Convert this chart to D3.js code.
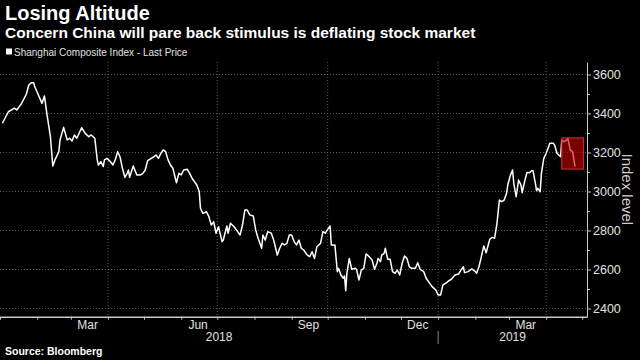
<!DOCTYPE html>
<html><head><meta charset="utf-8">
<script src="https://cdn.jsdelivr.net/npm/d3@7"></script>
<style>html,body{margin:0;padding:0;background:#000;}svg{display:block;}</style>
</head><body><svg id="chart" width="640" height="360"></svg>
<script>
const dates = [
"2018-01-03","2018-01-08","2018-01-13","2018-01-15","2018-01-19","2018-01-23","2018-01-25","2018-01-27","2018-01-29","2018-01-30",
"2018-02-02","2018-02-05","2018-02-07","2018-02-09","2018-02-12","2018-02-14","2018-02-16","2018-02-19","2018-02-20","2018-02-23",
"2018-02-26","2018-02-28","2018-03-02","2018-03-04","2018-03-06","2018-03-10","2018-03-13","2018-03-16","2018-03-18","2018-03-21",
"2018-03-23","2018-03-24","2018-03-26","2018-03-28","2018-03-29","2018-03-31","2018-04-03","2018-04-05","2018-04-07","2018-04-09",
"2018-04-11","2018-04-13","2018-04-15","2018-04-17","2018-04-18","2018-04-19","2018-04-22","2018-04-25","2018-04-28","2018-04-30",
"2018-05-02","2018-05-04","2018-05-07","2018-05-09","2018-05-11","2018-05-13","2018-05-15","2018-05-17","2018-05-19","2018-05-21",
"2018-05-23","2018-05-25","2018-05-28","2018-05-30","2018-06-01","2018-06-03","2018-06-06","2018-06-08","2018-06-10","2018-06-12",
"2018-06-14","2018-06-16","2018-06-17","2018-06-19","2018-06-22","2018-06-24","2018-06-26","2018-06-28","2018-06-30","2018-07-02",
"2018-07-05","2018-07-06","2018-07-09","2018-07-10","2018-07-12","2018-07-15","2018-07-18","2018-07-20","2018-07-22","2018-07-24",
"2018-07-26","2018-07-28","2018-07-31","2018-08-02","2018-08-04","2018-08-07","2018-08-08","2018-08-10","2018-08-12","2018-08-15",
"2018-08-17","2018-08-19","2018-08-20","2018-08-22","2018-08-24","2018-08-26","2018-08-28","2018-08-30","2018-09-01","2018-09-03",
"2018-09-05","2018-09-07","2018-09-09","2018-09-11","2018-09-14","2018-09-16","2018-09-18","2018-09-20","2018-09-22","2018-09-25",
"2018-09-27","2018-09-29","2018-10-01","2018-10-03","2018-10-04","2018-10-07","2018-10-09","2018-10-10","2018-10-12","2018-10-14",
"2018-10-15","2018-10-16","2018-10-17","2018-10-19","2018-10-21","2018-10-24","2018-10-25","2018-10-27","2018-10-29","2018-10-31",
"2018-11-02","2018-11-04","2018-11-07","2018-11-09","2018-11-11","2018-11-12","2018-11-14","2018-11-15","2018-11-17","2018-11-18",
"2018-11-20","2018-11-22","2018-11-24","2018-11-26","2018-11-28","2018-11-30","2018-12-02","2018-12-04","2018-12-06","2018-12-08",
"2018-12-10","2018-12-13","2018-12-15","2018-12-17","2018-12-20","2018-12-22","2018-12-25","2018-12-27","2018-12-30","2019-01-01",
"2019-01-03","2019-01-05","2019-01-08","2019-01-10","2019-01-12","2019-01-15","2019-01-18","2019-01-20","2019-01-22","2019-01-23",
"2019-01-26","2019-01-29","2019-02-01","2019-02-02","2019-02-04","2019-02-06","2019-02-08","2019-02-10","2019-02-13","2019-02-15",
"2019-02-17","2019-02-19","2019-02-21","2019-02-23","2019-02-25","2019-02-27","2019-02-28","2019-03-02","2019-03-04","2019-03-05",
"2019-03-07","2019-03-09","2019-03-11","2019-03-12","2019-03-14","2019-03-16","2019-03-18","2019-03-20","2019-03-21","2019-03-23",
"2019-03-24","2019-03-25","2019-03-27","2019-03-28","2019-03-30","2019-04-01","2019-04-03","2019-04-04","2019-04-07","2019-04-08",
"2019-04-10","2019-04-13","2019-04-14","2019-04-16","2019-04-18","2019-04-19","2019-04-20","2019-04-21","2019-04-23","2019-04-25"
];
const values = [
3350,3409,3427,3418,3452,3500,3546,3558,3558,3537,
3495,3452,3490,3401,3281,3131,3165,3204,3264,3329,
3264,3273,3259,3290,3273,3327,3298,3281,3290,3273,
3162,3136,3153,3128,3162,3170,3153,3136,3162,3204,
3178,3119,3073,3093,3110,3073,3131,3085,3085,3093,
3110,3158,3170,3178,3187,3170,3196,3213,3204,3162,
3136,3119,3045,3093,3085,3110,3114,3093,3068,3050,
3033,2999,2914,2888,2896,2871,2828,2845,2786,2819,
2743,2751,2823,2786,2837,2819,2794,2777,2828,2905,
2905,2880,2874,2803,2760,2709,2777,2751,2794,2786,
2751,2700,2674,2709,2734,2726,2734,2777,2777,2743,
2726,2751,2709,2700,2674,2666,2691,2657,2717,2734,
2794,2786,2806,2823,2726,2726,2589,2606,2572,2555,
2567,2491,2581,2657,2601,2606,2601,2546,2597,2606,
2680,2669,2649,2601,2632,2657,2640,2674,2683,2709,
2652,2652,2589,2581,2597,2572,2632,2669,2657,2614,
2606,2606,2635,2601,2589,2555,2529,2512,2495,2469,
2469,2521,2532,2543,2550,2572,2577,2597,2614,2584,
2589,2603,2589,2581,2614,2666,2721,2686,2755,2765,
2760,2837,2956,2948,2956,2991,3033,3080,3110,3042,
2973,3059,3033,2994,3050,3098,3096,3107,3107,3042,
3004,3016,2999,3093,3170,3196,3230,3247,3247,3238,
3196,3178,3264,3255,3264,3271,3247,3213,3204,3127
];
const yTicks = [2400,2600,2800,3000,3200,3400,3600];
const yMinorTicks = [2500,2700,2900,3100,3300,3500];
const gridDates = ["2018-04-01","2018-07-01","2018-10-01","2019-01-01","2019-04-01"];
const monthLabelDates = ["2018-03-15","2018-06-15","2018-09-15","2018-12-15","2019-03-15"];
const monthLabels = ["Mar","Jun","Sep","Dec","Mar"];
const yearLabels = ["2018","2019"];
const yearStarts = ["2018-01-01","2019-01-01"];
const highlightDates = ["2019-04-14","2019-05-02"];
const highlightValues = [3115,3275];
const xDomain = ["2018-01-01","2019-05-05"];
const yDomain = [2358,3664];
const title = "Losing Altitude";
const subtitle = "Concern China will pare back stimulus is deflating stock market";
const legendLabel = "Shanghai Composite Index - Last Price";
const axisTitle = "Index level";
const source = "Source: Bloomberg";

const parse = d3.timeParse("%Y-%m-%d");
const svg = d3.select("#chart");
const W = 640, H = 360;
const plot = {left: 0, right: 587, top: 62, bottom: 316.7};
const FONT = "'Liberation Sans', Arial, sans-serif";

svg.append("rect").attr("width", W).attr("height", H).attr("fill", "#000");

const x = d3.scaleTime().domain(xDomain.map(parse)).range([plot.left, plot.right]);
const y = d3.scaleLinear().domain(yDomain).range([plot.bottom, plot.top]);

// gridlines
const grid = svg.append("g");
grid.selectAll("line.h").data(yTicks).join("line")
  .attr("x1", plot.left).attr("x2", plot.right)
  .attr("y1", d => y(d)).attr("y2", d => y(d))
  .attr("stroke", "#5a5a5a").attr("stroke-width", 1).attr("stroke-dasharray", "1,2");
grid.selectAll("line.v").data(gridDates.map(parse)).join("line")
  .attr("x1", d => x(d)).attr("x2", d => x(d))
  .attr("y1", plot.top).attr("y2", plot.bottom)
  .attr("stroke", "#5a5a5a").attr("stroke-width", 1).attr("stroke-dasharray", "1,2");

// line
const data = dates.map((d, i) => ({date: parse(d), value: values[i]}));
svg.append("path").datum(data)
  .attr("fill", "none").attr("stroke", "#fff").attr("stroke-width", 1.5)
  .attr("stroke-linejoin", "round")
  .attr("d", d3.line().x(d => x(d.date)).y(d => y(d.value)));

// highlight box
const hx0 = x(parse(highlightDates[0])), hx1 = x(parse(highlightDates[1]));
const hy0 = y(highlightValues[1]), hy1 = y(highlightValues[0]);
svg.append("rect").attr("x", hx0).attr("y", hy0)
  .attr("width", hx1 - hx0).attr("height", hy1 - hy0)
  .attr("fill", "rgb(200,0,0)").attr("fill-opacity", 0.6)
  .attr("stroke", "rgb(215,45,45)").attr("stroke-width", 1);

// right axis
const yAxis = svg.append("g").attr("transform", `translate(${plot.right},0)`)
  .call(d3.axisRight(y).tickValues(yTicks).tickFormat(d3.format("d")).tickSize(4).tickSizeOuter(0).tickPadding(2));
yAxis.select(".domain").attr("stroke", "#c8c8c8");
yAxis.selectAll(".tick line").attr("stroke", "#c8c8c8");
yAxis.selectAll(".tick text").attr("fill", "#e0e0e0").style("font-family", FONT).style("font-size", "12.5px");
svg.append("g").attr("transform", `translate(${plot.right},0)`)
  .call(d3.axisRight(y).tickValues(yMinorTicks).tickSize(3).tickSizeOuter(0).tickFormat(""))
  .call(g => g.select(".domain").remove())
  .selectAll(".tick line").attr("stroke", "#c8c8c8");

svg.append("text")
  .attr("transform", `translate(622,${(plot.top + plot.bottom) / 2}) rotate(90)`)
  .attr("text-anchor", "middle")
  .attr("fill", "#d0d0d0").style("font-family", FONT).style("font-size", "15px")
  .text(axisTitle);

// bottom axis
const xAxis = svg.append("g").attr("transform", `translate(0,${plot.bottom})`)
  .call(d3.axisBottom(x).ticks(d3.timeMonth.every(1)).tickSize(3).tickSizeOuter(0).tickFormat(""));
xAxis.select(".domain").attr("stroke", "#c8c8c8").attr("stroke-width", 1.5);
xAxis.selectAll(".tick line").attr("stroke", "#c8c8c8");

svg.append("g").selectAll("text").data(monthLabelDates.map(parse)).join("text")
  .attr("x", d => x(d)).attr("y", 328.5).attr("text-anchor", "middle")
  .attr("fill", "#e0e0e0").style("font-family", FONT).style("font-size", "12px")
  .text((d, i) => monthLabels[i]);

const yearBounds = yearStarts.map(parse).map(x).concat([plot.right]);
svg.append("g").selectAll("text").data(yearLabels).join("text")
  .attr("x", (d, i) => (yearBounds[i] + yearBounds[i + 1]) / 2).attr("y", 341)
  .attr("text-anchor", "middle")
  .attr("fill", "#e0e0e0").style("font-family", FONT).style("font-size", "12px")
  .text(d => d);
svg.append("line")
  .attr("x1", yearBounds[1]).attr("x2", yearBounds[1])
  .attr("y1", 331).attr("y2", 344)
  .attr("stroke", "#888").attr("stroke-width", 1);

// titles
svg.append("text").attr("x", 5).attr("y", 20)
  .attr("fill", "#fff").style("font-family", FONT).style("font-weight", "bold").style("font-size", "20px")
  .text(title);
svg.append("text").attr("x", 5).attr("y", 38)
  .attr("fill", "#fff").style("font-family", FONT).style("font-weight", "bold").style("font-size", "15.5px")
  .text(subtitle);
svg.append("rect").attr("x", 6).attr("y", 48.5).attr("width", 6).attr("height", 6).attr("fill", "#fff");
svg.append("text").attr("x", 14).attr("y", 55.5)
  .attr("fill", "#e0e0e0").style("font-family", FONT).style("font-size", "10px")
  .text(legendLabel);
svg.append("text").attr("x", 5).attr("y", 355)
  .attr("fill", "#fff").style("font-family", FONT).style("font-weight", "bold").style("font-size", "10.5px")
  .text(source);
</script>
</body></html>
